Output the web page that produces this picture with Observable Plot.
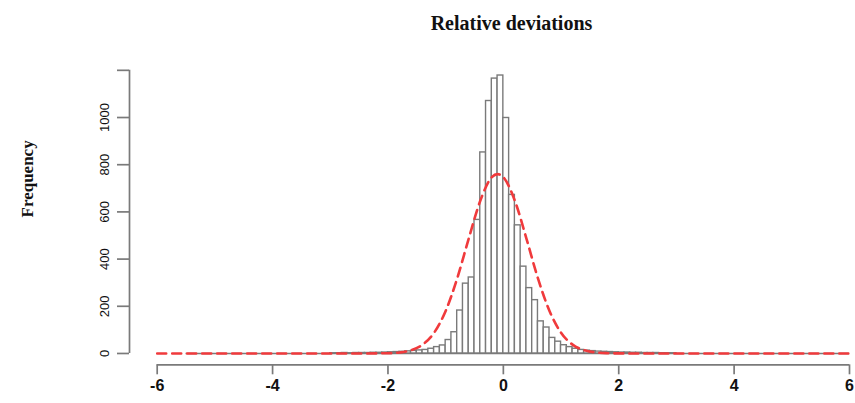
<!DOCTYPE html>
<html><head><meta charset="utf-8">
<script src="https://cdn.jsdelivr.net/npm/d3@7"></script>
<script src="https://cdn.jsdelivr.net/npm/@observablehq/plot@0.6"></script>
<style>body{margin:0;background:#fff}</style>
</head><body><div id="chart"></div>
<script>
const title = "Relative deviations";
const yLabel = "Frequency";
const xTicks = [-6, -4, -2, 0, 2, 4, 6];
const yTicks = [0, 200, 400, 600, 800, 1000, 1200];
const yTickLabels = ["0", "200", "400", "600", "800", "1000", ""];

// histogram: left edge of first bin, bin width, counts (bins -3.0 .. 3.0)
const binStart = -3.0;
const binWidth = 0.1;
const counts = [
  1, 1, 2, 1, 2, 2, 2, 3, 3, 4,
  5, 6, 7, 9, 11, 13, 15, 20, 27, 34,
  57, 90, 182, 296, 322, 566, 852, 1070, 1165, 1178,
  998, 672, 543, 368, 277, 226, 136, 110, 66, 50,
  35, 27, 20, 15, 12, 10, 8, 7, 6, 5,
  4, 4, 3, 3, 2, 2, 2, 1, 1, 1
];
// span of the histogram's (mostly empty) bins
const histRange = [-5.5, 6.0];

// fitted normal curve
const curveX = [-6, -4, -2.4, -2.0, -1.8, -1.6, -1.4, -1.2, -1.0, -0.8, -0.6, -0.4, -0.2, -0.1, 0, 0.2, 0.4, 0.6, 0.8, 1.0, 1.2, 1.4, 1.6, 1.8, 2.0, 2.4, 4, 6];
const curveY = [0, 0, 0.1, 1.2, 4.4, 13.9, 37.5, 88, 180, 318, 487, 647, 747, 760, 747, 647, 487, 318, 180, 88, 37.5, 13.9, 4.4, 1.2, 0.3, 0.05, 0, 0];

const xDomain = [-6.48, 6];
const yDomain = [-48, 1248];

const bins = counts.map((c, i) => ({
  x1: +(binStart + i * binWidth).toFixed(2),
  x2: +(binStart + (i + 1) * binWidth).toFixed(2),
  count: c
}));
const curve = curveX.map((x, i) => ({x, y: curveY[i]}));

const gray = "#7a7a7a";
const chart = Plot.plot({
  width: 855,
  height: 403,
  marginLeft: 129,
  marginRight: 6,
  marginTop: 58.5,
  marginBottom: 38.7,
  style: {background: "#fff", fontFamily: "'Liberation Sans', Arial, sans-serif"},
  x: {domain: xDomain},
  y: {domain: yDomain},
  marks: [
    Plot.ruleY([0], {x1: histRange[0], x2: histRange[1], stroke: gray, strokeWidth: 1.4}),
    Plot.rectY(bins, {x1: "x1", x2: "x2", y: "count", fill: "white", stroke: gray, strokeWidth: 1.4, inset: 0}),
    Plot.line(curve, {x: "x", y: "y", stroke: "#f03a3c", strokeWidth: 2.6, strokeDasharray: "9,6", curve: "monotone-x"}),
    Plot.ruleY([yDomain[0]], {x1: xTicks[0], x2: xTicks[xTicks.length - 1], stroke: gray, strokeWidth: 1.7}),
    Plot.axisX({ticks: xTicks, tickSize: 10, tickPadding: 5, stroke: gray, strokeWidth: 1.7, fill: "#111",
      fontSize: 16, fontWeight: "bold", tickFormat: d => String(d)}),
    Plot.ruleX([xDomain[0]], {y1: yTicks[0], y2: yTicks[yTicks.length - 1], stroke: gray, strokeWidth: 1.7}),
    Plot.axisY({ticks: yTicks, tickSize: 12, tickPadding: 9, tickRotate: -90, stroke: gray, strokeWidth: 1.7, fill: "#111",
      fontSize: 13, tickFormat: (d, i) => yTickLabels[yTicks.indexOf(d)]}),
    Plot.text([title], {frameAnchor: "top", dx: 22, dy: -29, lineAnchor: "bottom", fontSize: 20, fontWeight: "bold",
      fontFamily: "'Liberation Serif', 'Times New Roman', serif", fill: "#111"}),
    Plot.text([yLabel], {frameAnchor: "left", dx: -102, dy: -33, rotate: -90, textAnchor: "middle", lineAnchor: "middle",
      fontSize: 17, fontWeight: "bold", fontFamily: "'Liberation Serif', 'Times New Roman', serif", fill: "#111"})
  ]
});
document.getElementById("chart").append(chart);
</script>
</body></html>
